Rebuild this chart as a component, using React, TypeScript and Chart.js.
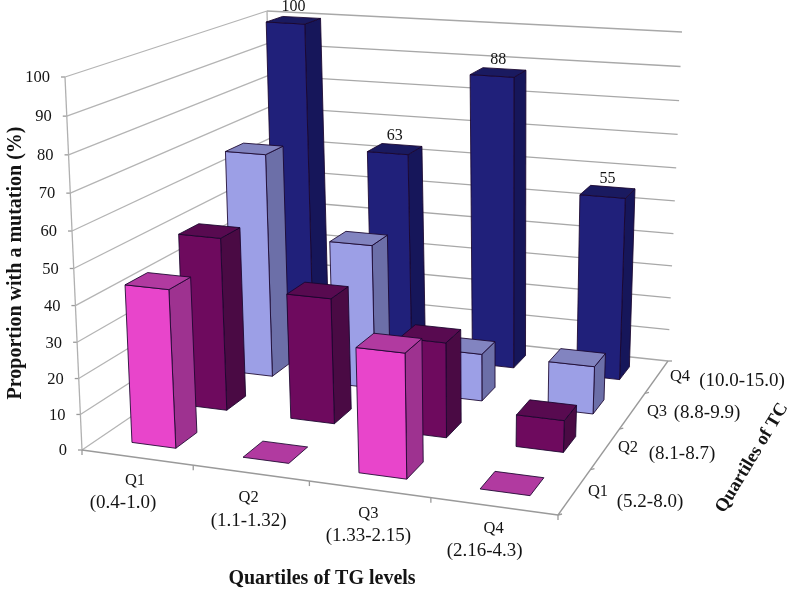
import React, { useEffect, useRef } from "react";
import { Chart, registerables } from "chart.js";

Chart.register(...registerables);

const tgCategories = ["Q1", "Q2", "Q3", "Q4"];
const tgRanges = ["(0.4-1.0)", "(1.1-1.32)", "(1.33-2.15)", "(2.16-4.3)"];
const tcQuartiles = ["Q1", "Q2", "Q3", "Q4"];
const tcRanges = ["(5.2-8.0)", "(8.1-8.7)", "(8.8-9.9)", "(10.0-15.0)"];
const yTicks = [0, 10, 20, 30, 40, 50, 60, 70, 80, 90, 100];
const tcQ1Values = [44, 0, 34, 0];
const tcQ2Values = [50, 36, 27, 9];
const tcQ3Values = [67, 43, 14, 14];
const tcQ4Values = [100, 63, 88, 55];

const seriesColors = [
  { front: "#E845CB", side: "#9E3290", top: "#B13AA0" },
  { front: "#6E0A5E", side: "#4A0A44", top: "#580A50" },
  { front: "#9C9FE6", side: "#6C6FA8", top: "#8284C0" },
  { front: "#20207A", side: "#16165A", top: "#1A1A60" },
];

type P = [number, number];

function homography(p00: P, p10: P, p11: P, p01: P) {
  const [x0, y0] = p00, [x1, y1] = p10, [x2, y2] = p11, [x3, y3] = p01;
  const dx1 = x1 - x2, dx2 = x3 - x2, sx = x0 - x1 + x2 - x3;
  const dy1 = y1 - y2, dy2 = y3 - y2, sy = y0 - y1 + y2 - y3;
  const den = dx1 * dy2 - dx2 * dy1;
  const g = (sx * dy2 - dx2 * sy) / den;
  const h = (dx1 * sy - sx * dy1) / den;
  const a = x1 - x0 + g * x1, b = x3 - x0 + h * x3;
  const d = y1 - y0 + g * y1, e = y3 - y0 + h * y3;
  return (u: number, v: number): P => {
    const q = g * u + h * v + 1;
    return [(a * u + b * v + x0) / q, (d * u + e * v + y0) / q];
  };
}

const floor = homography([82, 450], [558, 515], [668, 361], [275, 319]);
const ceiling = homography([65, 77], [572, 117], [682, 32], [267, 11]);
const HEIGHT_FORESHORTEN = 1.055;

function project(u: number, v: number, w: number): P {
  const f = floor(u, v), c = ceiling(u, v);
  const t = w / (w + (1 - w) * HEIGHT_FORESHORTEN);
  return [f[0] + (c[0] - f[0]) * t, f[1] + (c[1] - f[1]) * t];
}

const HALF_U = 0.05;
const HALF_V = 0.05;
const SERIF = '"Liberation Serif", serif';

const perspectivePlugin = {
  id: "perspective",
  beforeDatasetDraw() {
    return false;
  },
  afterDraw(chart: any) {
    const { ctx, scales } = chart;
    const xs = scales.x, ys = scales.y;
    const uOf = (i: number) => (xs.getPixelForValue(i) - xs.left) / xs.width;
    const wOf = (val: number) => (ys.bottom - ys.getPixelForValue(val)) / ys.height;

    const line = (a: P, b: P, color: string, width = 1.3) => {
      ctx.strokeStyle = color;
      ctx.lineWidth = width;
      ctx.beginPath();
      ctx.moveTo(a[0], a[1]);
      ctx.lineTo(b[0], b[1]);
      ctx.stroke();
    };
    const text = (s: string, x: number, y: number, font: string, align = "center", color = "#141414") => {
      ctx.font = font;
      ctx.fillStyle = color;
      ctx.textAlign = align;
      ctx.textBaseline = "middle";
      ctx.fillText(s, x, y);
    };

    ctx.save();
    ctx.lineJoin = "round";

    // walls
    yTicks.forEach((t) => {
      const w = wOf(t);
      const a = project(0, 0, w), b = project(0, 1, w), c = project(1, 1, w);
      line(a, b, "#b4b4b4");
      line(b, c, "#a8a8a8");
      line([a[0] - 4, a[1]], a, "#9a9a9a");
      text(String(t), a[0] - 15, a[1] + 1, `16.5px ${SERIF}`, "right");
    });
    line(project(0, 0, 0), project(0, 0, 1), "#b0b0b0");
    line(project(0, 1, 0), project(0, 1, 1), "#b0b0b0");

    // floor edges and ticks
    line(project(0, 0, 0), project(1, 0, 0), "#9a9a9a");
    line(project(1, 0, 0), project(1, 1, 0), "#9a9a9a");
    for (let i = 0; i <= 4; i++) {
      const p = project(i / 4, 0, 0);
      line(p, [p[0], p[1] + 5], "#9a9a9a");
      const q = project(1, i / 4, 0);
      line(q, [q[0] + 4, q[1] - (i === 4 ? 0 : 1)], "#9a9a9a");
    }

    // bars, back row first and left to right in each row
    const poly = (pts: P[], fill: string) => {
      ctx.fillStyle = fill;
      ctx.strokeStyle = "rgba(25,5,45,0.85)";
      ctx.lineWidth = 1;
      ctx.beginPath();
      pts.forEach((p, i) => (i ? ctx.lineTo(p[0], p[1]) : ctx.moveTo(p[0], p[1])));
      ctx.closePath();
      ctx.fill();
      ctx.stroke();
    };
    for (let s = chart.data.datasets.length - 1; s >= 0; s--) {
      const ds = chart.data.datasets[s];
      const col = seriesColors[s];
      const vc = (s + 0.5) / 4;
      ds.data.forEach((val: number, i: number) => {
        const uc = uOf(i);
        const w = wOf(val);
        const u0 = uc - HALF_U, u1 = uc + HALF_U, v0 = vc - HALF_V, v1 = vc + HALF_V;
        if (val > 0) {
          poly([project(u1, v0, 0), project(u1, v1, 0), project(u1, v1, w), project(u1, v0, w)], col.side);
          poly([project(u0, v0, 0), project(u1, v0, 0), project(u1, v0, w), project(u0, v0, w)], col.front);
        }
        poly([project(u0, v0, w), project(u1, v0, w), project(u1, v1, w), project(u0, v1, w)], col.top);
        if (s === chart.data.datasets.length - 1) {
          const c = project(uc, vc, w);
          text(String(val), c[0], c[1] - 13, `16px ${SERIF}`);
        }
      });
    }

    // category labels
    const tgOffsets: [number, number][] = [[-2, 23], [-2, 25], [-1, 24], [0, 22]];
    const tgRangeShift = [-12, 0, 0, -9];
    tgCategories.forEach((c, i) => {
      const p = project(uOf(i), 0, 0);
      const x = p[0] + tgOffsets[i][0], y = p[1] + tgOffsets[i][1];
      text(c, x, y, `16.5px ${SERIF}`);
      text(tgRanges[i], x + tgRangeShift[i], y + 23, `19px ${SERIF}`);
    });
    const tcQ: P[] = [[598, 492], [628, 448], [657, 412], [680, 377]];
    const tcR: P[] = [[650, 502], [682, 454], [707, 413], [742, 381]];
    tcQuartiles.forEach((c, i) => {
      text(c, tcQ[i][0], tcQ[i][1], `16.5px ${SERIF}`);
      text(tcRanges[i], tcR[i][0], tcR[i][1], `19px ${SERIF}`);
    });

    // axis titles
    text("Quartiles of TG levels", 322, 579, `bold 20px ${SERIF}`);
    ctx.save();
    ctx.translate(16, 263);
    ctx.rotate(-Math.PI / 2);
    text("Proportion with a mutation (%)", 0, 0, `bold 20px ${SERIF}`);
    ctx.restore();
    ctx.save();
    ctx.translate(752, 458);
    ctx.rotate((-59 * Math.PI) / 180);
    text("Quartiles of TC", 0, 0, `bold 18.5px ${SERIF}`);
    ctx.restore();
    ctx.restore();
  },
};

export default function App() {
  const ref = useRef<HTMLCanvasElement | null>(null);
  useEffect(() => {
    if (!ref.current) return;
    const chart = new Chart(ref.current, {
      type: "bar",
      data: {
        labels: tgCategories,
        datasets: [
          { label: "TC Q1", data: tcQ1Values },
          { label: "TC Q2", data: tcQ2Values },
          { label: "TC Q3", data: tcQ3Values },
          { label: "TC Q4", data: tcQ4Values },
        ],
      },
      options: {
        animation: false,
        responsive: false,
        devicePixelRatio: 1,
        layout: { padding: 0 },
        plugins: { legend: { display: false }, tooltip: { enabled: false } },
        scales: {
          x: { display: false },
          y: { display: false, min: 0, max: 100 },
        },
      },
      plugins: [perspectivePlugin],
    } as any);
    return () => chart.destroy();
  }, []);
  return (
    <div style={{ position: "absolute", left: 0, top: 0, width: 790, height: 590, background: "#fff" }}>
      <canvas ref={ref} width={790} height={590} style={{ display: "block" }} />
    </div>
  );
}
